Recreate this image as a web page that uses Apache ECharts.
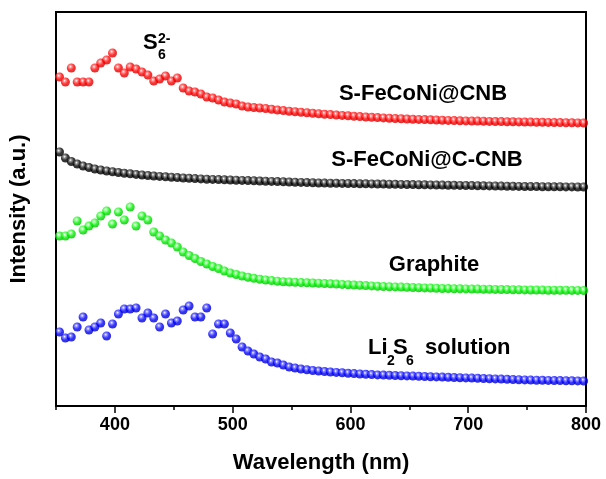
<!DOCTYPE html>
<html>
<head>
<meta charset="utf-8">
<script src="https://cdn.jsdelivr.net/npm/echarts@6/dist/echarts.min.js"></script>
<style>
html,body{margin:0;padding:0;background:#fff;}
#chart{width:606px;height:479px;}
</style>
</head>
<body>
<div id="chart"></div>
<script>
var wavelength = [353,358,363,368,373,378,383,388,393,398,403,408,413,418,423,428,433,438,443,448,453,458,463,468,473,478,483,488,493,498,503,508,513,518,523,528,533,538,543,548,553,558,563,568,573,578,583,588,593,598,603,608,613,618,623,628,633,638,643,648,653,658,663,668,673,678,683,688,693,698,703,708,713,718,723,728,733,738,743,748,753,758,763,768,773,778,783,788,793,798];

var sFeCoNiCNB = [329,324,338,324,324,324,338,343,346,353,338,333,339,337,334,331,325,327,330,325,328,318,315,314,312,309,308,306,304,303,302,300,299,298.5,298,297.5,296.8,296,295.4,294.8,294.3,293.8,293.3,292.8,292.3,291.8,291.4,291,290.6,290.2,289.8,289.4,289,288.7,288.4,288.1,287.8,287.5,287.3,287,286.8,286.6,286.4,286.2,286,285.8,285.6,285.4,285.2,285.1,285,284.9,284.8,284.6,284.5,284.4,284.3,284.2,284.1,284,283.9,283.8,283.7,283.6,283.5,283.4,283.3,283.2,283.1,283];

var sFeCoNiCCNB = [254,248,244.5,242,240,238.5,237,236,235,234.2,233.5,232.8,232.2,231.6,231,230.5,230,229.6,229.2,228.8,228.4,228,227.7,227.4,227.1,226.8,226.6,226.4,226.2,226,225.8,225.6,225.4,225.2,225,224.8,224.6,224.4,224.2,224,223.8,223.6,223.4,223.2,223,222.9,222.8,222.7,222.6,222.5,222.4,222.3,222.2,222.1,222,221.9,221.8,221.7,221.6,221.5,221.4,221.3,221.2,221.1,221,220.9,220.8,220.7,220.6,220.5,220.4,220.3,220.2,220.1,220,219.9,219.8,219.7,219.6,219.5,219.4,219.4,219.3,219.3,219.2,219.2,219.1,219.1,219,219];

var graphite = [170,170,172,185,176,180,183,190,195,182,194,186,199,180,190,186,174,170,166,163,159,154,150.5,147.5,144.5,142,139.5,137.5,135,133,131.5,130,128.7,127.7,126.8,126,125.4,124.8,124.3,124,123.7,123.4,123.2,123,122.8,122.5,122.2,121.9,121.6,121.3,121,120.7,120.4,120.1,119.8,119.5,119.3,119.1,118.9,118.7,118.5,118.3,118.1,117.9,117.7,117.5,117.4,117.3,117.2,117.1,117,116.9,116.8,116.7,116.6,116.5,116.4,116.3,116.2,116.1,116,115.9,115.9,115.8,115.8,115.7,115.7,115.6,115.6,115.5];

var li2s6 = [74,68,69,79,89,76,79,83,70,82,92,97,97,98,88,93,88,79,92,83,85,96,100,89,89,98,72,82,82,73,67,59,55,52,49,47,44,43,41,39,38,37,36.2,35.5,35,34.5,34,33.6,33.2,32.8,32.4,32,31.7,31.4,31.1,30.9,30.7,30.5,30.3,30.1,29.9,29.7,29.5,29.3,29.1,28.9,28.7,28.5,28.3,28.1,27.9,27.7,27.5,27.3,27.1,26.9,26.7,26.5,26.3,26.1,25.9,25.8,25.7,25.6,25.5,25.4,25.3,25.2,25.1,25];

var majorTicks = [400,500,600,700,800];
var minorTicks = [350,450,550,650,750];

var FONT = 'Liberation Sans, Arial, sans-serif';

function ball(c, light, dark) {
  return {
    type: 'radial', x: 0.4, y: 0.35, r: 0.7,
    colorStops: [
      {offset: 0, color: '#ffffff'},
      {offset: 0.22, color: light},
      {offset: 0.55, color: c},
      {offset: 1, color: dark}
    ]
  };
}

function pts(vals) {
  return vals.map(function (v, i) { return [wavelength[i], v]; });
}

function mkSeries(name, vals, col) {
  return {
    name: name, type: 'scatter', symbol: 'circle', symbolSize: 9,
    data: pts(vals), clip: false,
    itemStyle: {color: col, borderWidth: 0},
    emphasis: {disabled: true}
  };
}

var chart = echarts.init(document.getElementById('chart'));
chart.setOption({
  animation: false,
  backgroundColor: '#fff',
  grid: {left: 54, right: 20, top: 12, bottom: 73, show: true, borderColor: '#000', borderWidth: 2},
  xAxis: [{
    type: 'value', min: 350, max: 800,
    name: 'Wavelength (nm)', nameLocation: 'middle', nameGap: 46,
    nameTextStyle: {fontFamily: FONT, fontWeight: 'bold', fontSize: 22, color: '#000'},
    axisLine: {show: true, lineStyle: {color: '#000', width: 2}},
    axisTick: {show: true, length: 7, inside: false, customValues: majorTicks, lineStyle: {color: '#000', width: 1.5}},
    axisLabel: {show: true, customValues: majorTicks, margin: 10, fontFamily: FONT, fontWeight: 'bold', fontSize: 18, color: '#000'},
    splitLine: {show: false}
  }, {
    type: 'value', min: 350, max: 800, position: 'bottom',
    axisLine: {show: false},
    axisTick: {show: true, length: 4, inside: false, customValues: minorTicks, lineStyle: {color: '#000', width: 1.5}},
    axisLabel: {show: false},
    splitLine: {show: false}
  }],
  yAxis: {
    type: 'value', min: 0, max: 394,
    name: 'Intensity (a.u.)', nameLocation: 'middle', nameGap: 26,
    nameTextStyle: {fontFamily: FONT, fontWeight: 'bold', fontSize: 22, color: '#000'},
    axisLine: {show: true, lineStyle: {color: '#000', width: 2}},
    axisTick: {show: false}, axisLabel: {show: false}, splitLine: {show: false}
  },
  series: [
    mkSeries('S-FeCoNi@CNB', sFeCoNiCNB, ball('#ff0000', '#ff7070', '#c80000')),
    mkSeries('S-FeCoNi@C-CNB', sFeCoNiCCNB, ball('#000000', '#777777', '#000000')),
    mkSeries('Graphite', graphite, ball('#00f000', '#80ff80', '#00b400')),
    mkSeries('Li2S6 solution', li2s6, ball('#0000ff', '#7070ff', '#0000b4'))
  ],
  graphic: [
    {type: 'text', x: 423, y: 94, style: {text: 'S-FeCoNi@CNB', align: 'center', verticalAlign: 'middle', font: 'bold 22px ' + FONT, fill: '#000'}},
    {type: 'text', x: 427, y: 160, style: {text: 'S-FeCoNi@C-CNB', align: 'center', verticalAlign: 'middle', font: 'bold 22px ' + FONT, fill: '#000'}},
    {type: 'text', x: 434, y: 265, style: {text: 'Graphite', align: 'center', verticalAlign: 'middle', font: 'bold 22px ' + FONT, fill: '#000'}},
    {type: 'text', x: 368, y: 348, style: {text: 'Li', align: 'left', verticalAlign: 'middle', font: 'bold 22px ' + FONT, fill: '#000'}},
    {type: 'text', x: 387, y: 361, style: {text: '2', align: 'left', verticalAlign: 'middle', font: 'bold 14px ' + FONT, fill: '#000'}},
    {type: 'text', x: 393, y: 348, style: {text: 'S', align: 'left', verticalAlign: 'middle', font: 'bold 22px ' + FONT, fill: '#000'}},
    {type: 'text', x: 406, y: 361, style: {text: '6', align: 'left', verticalAlign: 'middle', font: 'bold 14px ' + FONT, fill: '#000'}},
    {type: 'text', x: 425, y: 348, style: {text: 'solution', align: 'left', verticalAlign: 'middle', font: 'bold 22px ' + FONT, fill: '#000'}},
    {type: 'text', x: 143, y: 42.5, style: {text: 'S', align: 'left', verticalAlign: 'middle', font: 'bold 22px ' + FONT, fill: '#000'}},
    {type: 'text', x: 158, y: 39, style: {text: '2-', align: 'left', verticalAlign: 'middle', font: 'bold 14px ' + FONT, fill: '#000'}},
    {type: 'text', x: 158, y: 55.5, style: {text: '6', align: 'left', verticalAlign: 'middle', font: 'bold 14px ' + FONT, fill: '#000'}}
  ]
});
</script>
</body>
</html>
